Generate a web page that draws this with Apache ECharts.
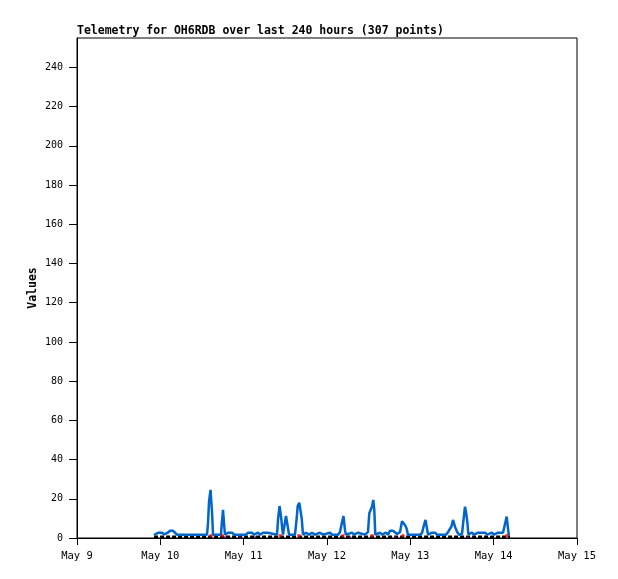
<!DOCTYPE html>
<html>
<head>
<meta charset="utf-8">
<script src="https://cdn.jsdelivr.net/npm/echarts@6/dist/echarts.min.js"></script>
<style>
html,body{margin:0;padding:0;background:#fff;}
#chart{width:618px;height:579px;}
</style>
</head>
<body>
<div id="chart"></div>
<script>
// hours since May 9 00:00
var blueHours = [22.18,22.75,23.33,24.48,25.06,25.63,26.21,26.79,27.65,28.22,28.80,31.97,32.26,32.83,34.56,34.85,35.14,37.44,37.73,38.02,38.45,38.88,39.17,41.47,41.70,42.05,42.34,42.62,43.49,44.06,44.64,45.22,45.79,46.37,48.67,49.25,50.40,50.98,52.13,52.71,53.57,54.14,55.01,55.58,57.60,57.89,58.32,58.75,59.04,59.33,59.90,60.19,60.48,60.77,61.06,62.78,63.27,63.56,64.02,64.43,64.71,65.09,65.95,66.82,67.68,68.54,69.98,70.85,72.86,73.44,75.17,75.74,76.32,76.75,77.18,77.47,79.20,79.78,80.93,81.50,82.94,83.23,83.81,84.18,84.67,84.96,85.33,85.62,85.91,87.26,87.84,88.99,89.57,90.14,91.01,91.58,92.16,93.02,93.60,94.03,94.46,94.90,95.33,98.78,99.36,99.94,100.37,100.71,101.09,102.24,103.10,103.68,106.27,106.85,107.42,107.86,108.29,108.86,109.44,110.02,110.88,111.26,111.74,112.03,112.41,112.70,113.76,114.34,115.49,116.06,117.50,118.08,119.52,120.10,121.25,121.82,122.69,123.26,123.75,123.92,124.33,124.70];
var blueValues = [1.5,1.5,2.7,2.7,1.8,1.8,2.8,3.7,3.7,3.0,1.7,1.7,2.6,1.7,1.7,2.6,1.7,1.7,7.5,18.5,24.5,13.5,1.7,1.7,7.5,14.3,7.5,1.7,2.7,1.7,2.7,1.7,2.7,1.7,1.7,2.7,2.7,1.7,2.7,1.7,2.7,1.7,2.7,1.7,1.7,9.2,16.3,11.2,6,1.7,1.7,11.2,12.2,5,1.7,1.7,10,16.3,18,18.5,10,1.7,2.7,1.7,2.7,1.7,2.7,1.7,2.7,1.7,1.7,3,8,11.2,4,1.7,2.7,1.7,2.7,1.7,1.7,2.7,3,12.6,13.4,16,19.4,14.3,1.7,2.7,1.7,2.7,1.7,3.7,3.7,4,2,3,8.5,9.2,6.6,5,1.7,1.7,2.5,6.6,9.2,5.8,1.7,2.7,2.7,1.7,1.7,3,3,6,9.2,5.8,3.2,1.7,2,8.3,16,13.4,8.3,1.9,2.7,1.7,2.7,1.7,2.7,1.7,2.7,1.7,2.7,1.7,2.7,1.7,10.9,11.2,1.7,1.7];
var blackHours = [22.2, 124.7];
var blackValues = [0.7, 0.7];
var redHours = [38.6, 41.8, 58.5, 63.9, 76.6, 85.0, 93.9, 123.8];
var redValues = [1.2, 1.2, 1.2, 1.2, 1.2, 1.2, 1.2, 1.2];
var purpleHours = [42.6, 46.9, 51.3, 78.6, 91.6, 112.6];
var purpleValues = [0.4, 0.4, 0.4, 0.4, 0.4, 0.4];
var yTicks = [0,20,40,60,80,100,120,140,160,180,200,220,240];
var xTickHours = [0,24,48,72,96,120,144];
var xTickLabels = ['May 9','May 10','May 11','May 12','May 13','May 14','May 15'];
var titleText = 'Telemetry for OH6RDB over last 240 hours (307 points)';

function zip(a, b){ return a.map(function(v,i){ return [v, b[i]]; }); }

var chart = echarts.init(document.getElementById('chart'), null, {renderer:'canvas'});
var mono = 'DejaVu Sans Mono, Liberation Mono, monospace';
chart.setOption({
  animation: false,
  backgroundColor: '#fff',
  title: {
    text: titleText, left: 77, top: 25, padding: 0,
    textStyle: {fontFamily: mono, fontSize: 11.5, fontWeight: 'bold', color: '#000'}
  },
  grid: {left: 77, top: 38, width: 500, height: 500, show: true, borderColor: '#000', borderWidth: 1, backgroundColor: '#fff'},
  xAxis: {
    type: 'value', min: 0, max: 144, interval: 24,
    axisLine: {show: true, lineStyle: {color: '#000', width: 1}},
    axisTick: {show: true, length: 7, lineStyle: {color: '#000'}},
    splitLine: {show: false},
    axisLabel: {
      margin: 13, color: '#000', fontFamily: mono, fontSize: 10.5,
      formatter: function(v){ var i = xTickHours.indexOf(v); return i >= 0 ? xTickLabels[i] : ''; }
    }
  },
  yAxis: {
    type: 'value', min: 0, max: 255, interval: 20,
    name: 'Values', nameLocation: 'middle', nameGap: 38, nameRotate: 90, nameMoveOverlap: false,
    nameTextStyle: {fontFamily: mono, fontSize: 11.5, fontWeight: 'bold', color: '#000'},
    axisLine: {show: true, lineStyle: {color: '#000', width: 1}},
    axisTick: {show: true, length: 8, lineStyle: {color: '#000'}, customValues: yTicks},
    splitLine: {show: false},
    axisLabel: {margin: 14, color: '#000', fontFamily: mono, fontSize: 10, customValues: yTicks}
  },
  series: [
    {type: 'line', data: zip(blackHours, blackValues), showSymbol: false, symbol: 'none',
     lineStyle: {color: '#000', width: 2.5, type: [4, 2]}, z: 2},
    {type: 'line', data: zip(blueHours, blueValues), showSymbol: false, symbol: 'none',
     lineStyle: {color: '#0066cc', width: 2.5}, z: 3},
    {type: 'scatter', data: zip(redHours, redValues), symbol: 'rect', symbolSize: 3,
     itemStyle: {color: '#ff0000'}, z: 4},
    {type: 'scatter', data: zip(purpleHours, purpleValues), symbol: 'rect', symbolSize: 2,
     itemStyle: {color: '#800080'}, z: 4}
  ]
});
</script>
</body>
</html>
